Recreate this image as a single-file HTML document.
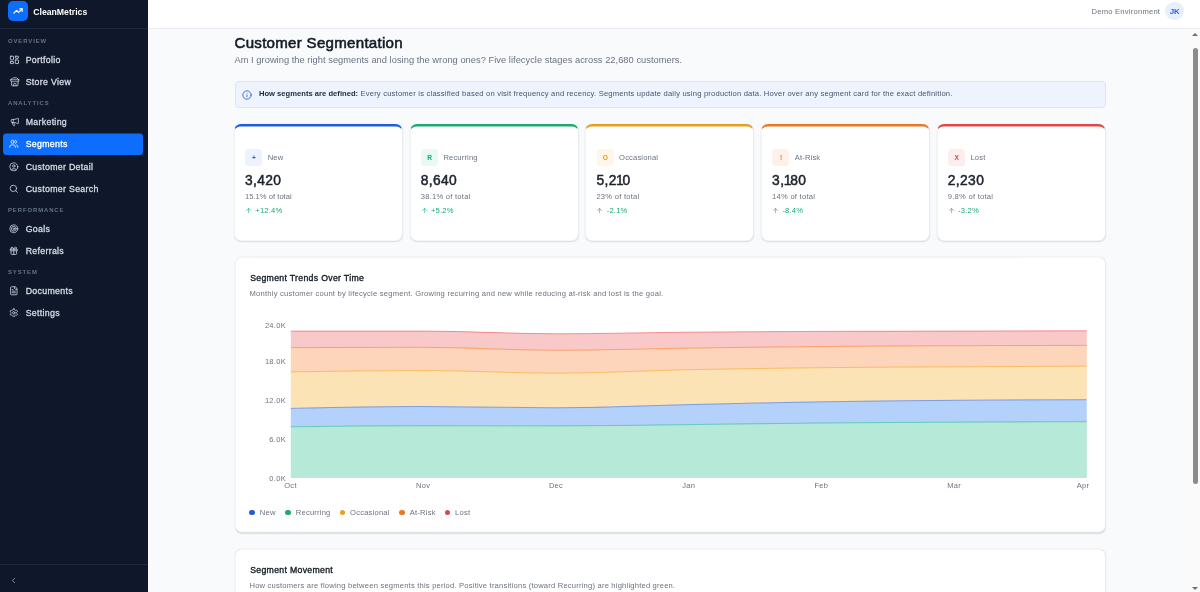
<!DOCTYPE html>
<html lang="en">
<head>
<meta charset="utf-8">
<title>CleanMetrics - Customer Segmentation</title>
<style>
*{box-sizing:border-box;margin:0;padding:0}
html,body{width:1200px;height:592px;overflow:hidden}
body{font-family:"Liberation Sans",sans-serif;background:#f8fafc;color:#0f172a;position:relative;-webkit-font-smoothing:antialiased}
.abs{position:absolute}
/* sidebar */
#side{position:absolute;left:0;top:0;width:148.300px;height:592px;background:#0f172a}
#side .hdr{position:absolute;left:0;top:0;width:148px;height:29px;border-bottom:1px solid #1e293b}
#logo{position:absolute;left:8px;top:1.400px;width:20px;height:20.100px;border-radius:5px;background:#0d6efd}
#brand{position:absolute;left:33.200px;top:5.600px;font-size:8.7px;font-weight:700;color:#fff;line-height:12px;white-space:nowrap}
.sec{position:absolute;left:8px;font-size:5.9px;font-weight:700;letter-spacing:.93px;color:#64748b;line-height:8px;white-space:nowrap}
.nav{position:absolute;left:3px;width:140px;height:22px;border-radius:3.5px;color:#d5dbe5;font-size:8.800px;font-weight:400;-webkit-text-stroke:.3px #d5dbe5;line-height:22px;white-space:nowrap}
.nav span{position:absolute;left:22.700px;top:-.200px;letter-spacing:.3px}
.nav svg{position:absolute;left:6.400px;top:5.900px;width:9.6px;height:9.6px;stroke:#cbd5e1;fill:none;stroke-width:2;stroke-linecap:round;stroke-linejoin:round}
.nav.on{background:#0d6efd;color:#fff;-webkit-text-stroke-color:#fff;box-shadow:inset 0 .5px 0 #0f172a}
.nav.on svg{stroke:#fff}
#side .ftr{position:absolute;left:0;top:564px;width:148px;height:28px;border-top:1px solid #1e293b}
/* topbar */
#top{position:absolute;left:148px;top:0;width:1052px;height:28.500px;background:#fff;border-bottom:1px solid #e9ecf0}
#env{position:absolute;right:39.800px;top:5.600px;font-size:7.600px;letter-spacing:.23px;color:#6b7280;line-height:12px;white-space:nowrap}
#ava{position:absolute;left:1017.400px;top:1.700px;width:18.600px;height:18.600px;border-radius:50%;background:#e7eefd;color:#2563eb;font-size:7.800px;font-weight:700;text-align:center;line-height:19.800px}
/* scrollbar */
#sb{position:absolute;left:1188px;top:29px;width:12px;height:563px;background:#fafafa}
#sb .th{position:absolute;left:4.700px;top:19px;width:5.300px;height:435.600px;border-radius:3px;background:#8b8b8b}
#sb .up{position:absolute;left:4.300px;top:3.500px;width:0;height:0;border-left:3px solid transparent;border-right:3px solid transparent;border-bottom:3.600px solid #6e6e6e}
#sb .dn{position:absolute;left:4.300px;top:557.700px;width:0;height:0;border-left:3px solid transparent;border-right:3px solid transparent;border-top:3.600px solid #6e6e6e}
/* main */
h1{position:absolute;left:234.500px;top:32.600px;font-size:15.100px;font-weight:400;-webkit-text-stroke:.55px #141a26;color:#141a26;line-height:20px;white-space:nowrap;letter-spacing:.27px}
#sub{position:absolute;left:234.500px;top:54px;letter-spacing:.031px;font-size:9.300px;color:#6b7280;line-height:12px;white-space:nowrap}
#info{position:absolute;left:234.500px;top:81px;width:871.200px;height:26.5px;border:1px solid #dbe4fb;background:#eef3fe;border-radius:4px;font-size:7.600px;letter-spacing:.2px;color:#475569;line-height:24.500px;white-space:nowrap}
#info .t{position:absolute;left:23.400px;top:0}
#info b{color:#1e293b;letter-spacing:.02px}
#info svg{position:absolute;left:6.900px;top:7.800px;width:10px;height:10px;fill:none;stroke:#2c60d4;stroke-width:2.100;stroke-linecap:round;stroke-linejoin:round}
.card{position:absolute;top:124px;width:167.800px;height:116.800px}
.card>div{margin:-.1px 0 0 .6px}
.card>.fr{margin:0;position:absolute;left:-.7px;top:0;width:280.830px;height:194.670px;transform:scale(.6);transform-origin:0 0;background:#fff;border:1px solid #eceef2;border-top:4px solid #000;border-radius:12px;box-shadow:0 1px 3px rgba(15,23,42,.085),0 1px 2px rgba(15,23,42,.05)}
.card .ic{position:absolute;left:10.300px;top:25px;width:17px;height:17px;border-radius:3.600px;font-size:6.6px;font-weight:700;text-align:center;line-height:17px}
.card .nm{position:absolute;left:32.600px;top:28.200px;letter-spacing:.15px;font-size:7.600px;color:#6b7280;line-height:12px;white-space:nowrap}
.card .v{position:absolute;left:9.900px;top:48px;font-size:13.800px;font-weight:400;-webkit-text-stroke:.5px #1d222c;color:#1d222c;line-height:18px;white-space:nowrap;letter-spacing:.38px}
.card .v .n1{margin:0 -1.500px 0 -.7px}
.card .p{position:absolute;left:9.900px;top:67.100px;letter-spacing:.25px;font-size:7.600px;color:#6b7280;line-height:12px;white-space:nowrap}
.card .d{position:absolute;left:20.200px;top:81.100px;letter-spacing:.2px;font-size:7.600px;color:#1aa874;line-height:12px;white-space:nowrap}
.card .d svg{position:absolute;left:-10.300px;top:1.900px;width:7.200px;height:7.200px;fill:none;stroke:#1aa874;stroke-width:2;stroke-linecap:round;stroke-linejoin:round}
.panel{position:absolute;left:235px;width:869.800px}
.panel>.fr{position:absolute;left:-.25px;top:0;width:1450.750px;transform:scale(.6);transform-origin:0 0;background:#fff;border:1px solid #eceef2;border-radius:12px;box-shadow:0 1px 3px rgba(15,23,42,.085),0 1px 2px rgba(15,23,42,.05)}
.panel h2{position:absolute;left:15.200px;top:15px;letter-spacing:.32px;font-size:8.700px;font-weight:400;-webkit-text-stroke:.35px #141a26;color:#141a26;line-height:12px;white-space:nowrap}
.panel .ds{position:absolute;left:14.500px;top:31px;letter-spacing:.23px;font-size:7.600px;color:#6b7280;line-height:12px;white-space:nowrap}
#chart{position:absolute;left:-235px;top:-257px;width:1200px;height:592px}
#chart text{font-family:"Liberation Sans",sans-serif;font-size:7.500px;fill:#6b7280;letter-spacing:.3px}
.lg{position:absolute;top:249.500px;letter-spacing:.2px;font-size:7.600px;color:#6b7280;line-height:12px;white-space:nowrap}
.lg i{position:absolute;left:-10.5px;top:3.2px;width:5.8px;height:5.8px;border-radius:50%}
</style>
</head>
<body>
<div id="top">
  <div id="env">Demo Environment</div>
  <div id="ava">JK</div>
</div>
<div id="sb"><div class="up"></div><div class="th"></div><div class="dn"></div></div>

<h1>Customer Segmentation</h1>
<div id="sub">Am I growing the right segments and losing the wrong ones? Five lifecycle stages across 22,680 customers.</div>
<div id="info">
  <svg viewBox="0 0 24 24"><circle cx="12" cy="12" r="10"/><path d="M12 16v-4M12 8h.01"/></svg>
  <div class="t"><b>How segments are defined:</b> Every customer is classified based on visit frequency and recency. Segments update daily using production data. Hover over any segment card for the exact definition.</div>
</div>

<div class="card" style="left:234.5px"><div class="fr" style="border-top-color:#1f5fd6"></div><div class="ic" style="background:#edf2fe;color:#2563eb">+</div><div class="nm">New</div><div class="v">3,420</div><div class="p" style="letter-spacing:.02px">15.1% of total</div><div class="d"><svg viewBox="0 0 24 24"><path d="M12 19V5"/><path d="M5 12l7-7 7 7"/></svg>+12.4%</div></div>
<div class="card" style="left:410.2px"><div class="fr" style="border-top-color:#1fa772"></div><div class="ic" style="background:#ebf9f4;color:#12a874">R</div><div class="nm">Recurring</div><div class="v">8,640</div><div class="p">38.1% of total</div><div class="d"><svg viewBox="0 0 24 24"><path d="M12 19V5"/><path d="M5 12l7-7 7 7"/></svg>+5.2%</div></div>
<div class="card" style="left:585.9px"><div class="fr" style="border-top-color:#e6a023"></div><div class="ic" style="background:#fef7e8;color:#e99a10">O</div><div class="nm">Occasional</div><div class="v">5,2<span class="n1">1</span>0</div><div class="p">23% of total</div><div class="d"><svg viewBox="0 0 24 24"><path d="M12 19V5"/><path d="M5 12l7-7 7 7"/></svg>-2.1%</div></div>
<div class="card" style="left:761.6px"><div class="fr" style="border-top-color:#e87924"></div><div class="ic" style="background:#fef1ea;color:#ee7420">!</div><div class="nm">At-Risk</div><div class="v">3,<span class="n1">1</span>80</div><div class="p">14% of total</div><div class="d"><svg viewBox="0 0 24 24"><path d="M12 19V5"/><path d="M5 12l7-7 7 7"/></svg>-8.4%</div></div>
<div class="card" style="left:937.3px"><div class="fr" style="border-top-color:#dc4848"></div><div class="ic" style="background:#fdeeee;color:#e04545">X</div><div class="nm">Lost</div><div class="v">2,230</div><div class="p">9.8% of total</div><div class="d"><svg viewBox="0 0 24 24"><path d="M12 19V5"/><path d="M5 12l7-7 7 7"/></svg>-3.2%</div></div>

<div class="panel" id="p1" style="top:257px;height:275.200px"><div class="fr" style="height:458.800px"></div>
  <h2>Segment Trends Over Time</h2>
  <div class="ds">Monthly customer count by lifecycle segment. Growing recurring and new while reducing at-risk and lost is the goal.</div>
  <svg id="chart" viewBox="0 0 1200 592">
    <path d="M290.8,426.8C335.0,426.2,379.3,425.7,423.5,425.7C467.7,425.7,511.9,425.9,556.1,425.9C600.3,425.9,644.6,425.1,688.8,424.6C733.0,424.1,777.3,423.4,821.5,423.0C865.7,422.6,909.9,422.4,954.1,422.2C998.3,422.0,1042.6,421.8,1086.8,421.6L1086.8,478.0C1042.6,478.0,998.3,478.0,954.1,478.0C909.9,478.0,865.7,478.0,821.5,478.0C777.3,478.0,733.0,478.0,688.8,478.0C644.6,478.0,600.3,478.0,556.1,478.0C511.9,478.0,467.7,478.0,423.5,478.0C379.3,478.0,335.0,478.0,290.8,478.0Z" fill="#b6e9d7"/>
<path d="M290.8,408.4C335.0,407.4,379.3,406.5,423.5,406.5C467.7,406.5,511.9,407.8,556.1,407.8C600.3,407.8,644.6,405.6,688.8,404.6C733.0,403.6,777.3,402.5,821.5,401.8C865.7,401.1,909.9,400.6,954.1,400.3C998.3,399.9,1042.6,399.8,1086.8,399.7L1086.8,421.6C1042.6,421.8,998.3,422.0,954.1,422.2C909.9,422.4,865.7,422.6,821.5,423.0C777.3,423.4,733.0,424.1,688.8,424.6C644.6,425.1,600.3,425.9,556.1,425.9C511.9,425.9,467.7,425.7,423.5,425.7C379.3,425.7,335.0,426.2,290.8,426.8Z" fill="#b4d1fc"/>
<path d="M290.8,371.9C335.0,371.2,379.3,370.5,423.5,370.5C467.7,370.5,511.9,373.2,556.1,373.2C600.3,373.2,644.6,370.6,688.8,369.7C733.0,368.8,777.3,368.2,821.5,367.7C865.7,367.2,909.9,367.0,954.1,366.8C998.3,366.5,1042.6,366.4,1086.8,366.2L1086.8,399.7C1042.6,399.8,998.3,399.9,954.1,400.3C909.9,400.6,865.7,401.1,821.5,401.8C777.3,402.5,733.0,403.6,688.8,404.6C644.6,405.6,600.3,407.8,556.1,407.8C511.9,407.8,467.7,406.5,423.5,406.5C379.3,406.5,335.0,407.4,290.8,408.4Z" fill="#fce3b5"/>
<path d="M290.8,347.6C335.0,347.5,379.3,347.3,423.5,347.3C467.7,347.3,511.9,350.3,556.1,350.3C600.3,350.3,644.6,348.7,688.8,348.1C733.0,347.5,777.3,346.9,821.5,346.5C865.7,346.1,909.9,345.9,954.1,345.7C998.3,345.5,1042.6,345.5,1086.8,345.4L1086.8,366.2C1042.6,366.4,998.3,366.5,954.1,366.8C909.9,367.0,865.7,367.2,821.5,367.7C777.3,368.2,733.0,368.8,688.8,369.7C644.6,370.6,600.3,373.2,556.1,373.2C511.9,373.2,467.7,370.5,423.5,370.5C379.3,370.5,335.0,371.2,290.8,371.9Z" fill="#fdd5ba"/>
<path d="M290.8,331.1C335.0,331.1,379.3,331.1,423.5,331.1C467.7,331.1,511.9,333.8,556.1,333.8C600.3,333.8,644.6,332.6,688.8,332.2C733.0,331.8,777.3,331.6,821.5,331.4C865.7,331.2,909.9,331.2,954.1,331.1C998.3,331.0,1042.6,330.9,1086.8,330.8L1086.8,345.4C1042.6,345.5,998.3,345.5,954.1,345.7C909.9,345.9,865.7,346.1,821.5,346.5C777.3,346.9,733.0,347.5,688.8,348.1C644.6,348.7,600.3,350.3,556.1,350.3C511.9,350.3,467.7,347.3,423.5,347.3C379.3,347.3,335.0,347.5,290.8,347.6Z" fill="#f9c9c9"/>
<path d="M290.8,426.8C335.0,426.2,379.3,425.7,423.5,425.7C467.7,425.7,511.9,425.9,556.1,425.9C600.3,425.9,644.6,425.1,688.8,424.6C733.0,424.1,777.3,423.4,821.5,423.0C865.7,422.6,909.9,422.4,954.1,422.2C998.3,422.0,1042.6,421.8,1086.8,421.6" fill="none" stroke="#10b981" stroke-width="1" stroke-opacity=".55"/>
<path d="M290.8,408.4C335.0,407.4,379.3,406.5,423.5,406.5C467.7,406.5,511.9,407.8,556.1,407.8C600.3,407.8,644.6,405.6,688.8,404.6C733.0,403.6,777.3,402.5,821.5,401.8C865.7,401.1,909.9,400.6,954.1,400.3C998.3,399.9,1042.6,399.8,1086.8,399.7" fill="none" stroke="#2563eb" stroke-width="1" stroke-opacity=".55"/>
<path d="M290.8,371.9C335.0,371.2,379.3,370.5,423.5,370.5C467.7,370.5,511.9,373.2,556.1,373.2C600.3,373.2,644.6,370.6,688.8,369.7C733.0,368.8,777.3,368.2,821.5,367.7C865.7,367.2,909.9,367.0,954.1,366.8C998.3,366.5,1042.6,366.4,1086.8,366.2" fill="none" stroke="#f59e0b" stroke-width="1" stroke-opacity=".55"/>
<path d="M290.8,347.6C335.0,347.5,379.3,347.3,423.5,347.3C467.7,347.3,511.9,350.3,556.1,350.3C600.3,350.3,644.6,348.7,688.8,348.1C733.0,347.5,777.3,346.9,821.5,346.5C865.7,346.1,909.9,345.9,954.1,345.7C998.3,345.5,1042.6,345.5,1086.8,345.4" fill="none" stroke="#f97316" stroke-width="1" stroke-opacity=".55"/>
<path d="M290.8,331.1C335.0,331.1,379.3,331.1,423.5,331.1C467.7,331.1,511.9,333.8,556.1,333.8C600.3,333.8,644.6,332.6,688.8,332.2C733.0,331.8,777.3,331.6,821.5,331.4C865.7,331.2,909.9,331.2,954.1,331.1C998.3,331.0,1042.6,330.9,1086.8,330.8" fill="none" stroke="#ef4444" stroke-width="1" stroke-opacity=".55"/>
    <g text-anchor="end">
      <text x="286" y="328">24.0K</text>
      <text x="286" y="364">18.0K</text>
      <text x="286" y="403">12.0K</text>
      <text x="286" y="442">6.0K</text>
      <text x="286" y="481">0.0K</text>
    </g>
    <g text-anchor="middle">
      <text x="290.5" y="488.200">Oct</text>
      <text x="423.2" y="488.200">Nov</text>
      <text x="556" y="488.200">Dec</text>
      <text x="688.7" y="488.200">Jan</text>
      <text x="821.4" y="488.200">Feb</text>
      <text x="954.1" y="488.200">Mar</text>
      <text x="1083" y="488.200">Apr</text>
    </g>
  </svg>
  <div class="lg" style="left:24.8px"><i style="background:#1f5fd6"></i>New</div>
  <div class="lg" style="left:60.8px"><i style="background:#1fa772"></i>Recurring</div>
  <div class="lg" style="left:115.1px"><i style="background:#e6a023"></i>Occasional</div>
  <div class="lg" style="left:174.8px"><i style="background:#e87924"></i>At-Risk</div>
  <div class="lg" style="left:220.1px"><i style="background:#dc4848"></i>Lost</div>
</div>

<div class="panel" id="p2" style="top:549px;height:80px"><div class="fr" style="height:135.330px"></div>
  <h2>Segment Movement</h2>
  <div class="ds" style="letter-spacing:.2px">How customers are flowing between segments this period. Positive transitions (toward Recurring) are highlighted green.</div>
</div>

<div id="side">
  <div class="hdr">
    <div id="logo"><svg viewBox="0 0 24 24" style="position:absolute;left:5px;top:5px;width:10px;height:10px;fill:none;stroke:#fff;stroke-width:2.800;stroke-linecap:round;stroke-linejoin:round"><path d="M22 7l-8.5 8.5-5-5L2 17"/><path d="M16 7h6v6"/></svg></div>
    <div id="brand">CleanMetrics</div>
  </div>
  <div class="sec" style="top:37px">OVERVIEW</div>
  <div class="nav" style="top:48.500px"><svg viewBox="0 0 24 24" preserveAspectRatio="none" style="left:5.900px;top:6.700px;width:10.800px;height:9.800px"><rect x="3" y="3" width="7" height="9" rx="1"/><rect x="14" y="3" width="7" height="5" rx="1"/><rect x="14" y="12" width="7" height="9" rx="1"/><rect x="3" y="16" width="7" height="5" rx="1"/></svg><span style="top:.6px">Portfolio</span></div>
  <div class="nav" style="top:71px"><svg viewBox="0 0 24 24" style="left:7.300px;top:6.300px"><path d="m2 7 4.410-4.410A2 2 0 0 1 7.830 2h8.340a2 2 0 0 1 1.420.590L22 7"/><path d="M4 12v8a2 2 0 0 0 2 2h12a2 2 0 0 0 2-2v-8"/><path d="M15 22v-4a2 2 0 0 0-2-2h-2a2 2 0 0 0-2 2v4"/><path d="M2 7h20"/><path d="M22 7v3a2 2 0 0 1-2 2a2.700 2.700 0 0 1-1.590-.630.700.700 0 0 0-.820 0A2.700 2.700 0 0 1 16 12a2.700 2.700 0 0 1-1.590-.630.700.700 0 0 0-.820 0A2.700 2.700 0 0 1 12 12a2.700 2.700 0 0 1-1.590-.630.700.700 0 0 0-.820 0A2.700 2.700 0 0 1 8 12a2.700 2.700 0 0 1-1.590-.630.700.700 0 0 0-.820 0A2.700 2.700 0 0 1 4 12a2 2 0 0 1-2-2V7"/></svg><span>Store View</span></div>
  <div class="sec" style="top:99px">ANALYTICS</div>
  <div class="nav" style="top:111.200px"><svg viewBox="0 0 24 24" style="left:6.900px"><path d="M11 6a13 13 0 0 0 8.400-2.800A1 1 0 0 1 21 4v12a1 1 0 0 1-1.600.800A13 13 0 0 0 11 14H5a2 2 0 0 1-2-2V8a2 2 0 0 1 2-2z"/><path d="M6 14a12 12 0 0 0 2.400 7.200 2 2 0 0 0 3.200-2.400A8 8 0 0 1 10 14"/><path d="M8 6v8"/></svg><span>Marketing</span></div>
  <div class="nav on" style="top:133px"><svg viewBox="0 0 24 24"><path d="M16 21v-2a4 4 0 0 0-4-4H6a4 4 0 0 0-4 4v2"/><circle cx="9" cy="7" r="4"/><path d="M22 21v-2a4 4 0 0 0-3-3.870"/><path d="M16 3.130a4 4 0 0 1 0 7.750"/></svg><span>Segments</span></div>
  <div class="nav" style="top:156.200px"><svg viewBox="0 0 24 24"><circle cx="12" cy="12" r="10"/><circle cx="12" cy="10" r="3"/><path d="M7 20.662V19a2 2 0 0 1 2-2h6a2 2 0 0 1 2 2v1.662"/></svg><span>Customer Detail</span></div>
  <div class="nav" style="top:178px"><svg viewBox="0 0 24 24"><circle cx="11" cy="11" r="8"/><path d="M21 21l-4.300-4.300"/></svg><span>Customer Search</span></div>
  <div class="sec" style="top:206px">PERFORMANCE</div>
  <div class="nav" style="top:218.200px"><svg viewBox="0 0 24 24"><circle cx="12" cy="12" r="10"/><circle cx="12" cy="12" r="6"/><circle cx="12" cy="12" r="2"/></svg><span>Goals</span></div>
  <div class="nav" style="top:240px"><svg viewBox="0 0 24 24"><rect x="3" y="8" width="18" height="4" rx="1"/><path d="M12 8v13"/><path d="M19 12v7a2 2 0 0 1-2 2H7a2 2 0 0 1-2-2v-7"/><path d="M7.500 8a2.500 2.500 0 0 1 0-5A4.800 8 0 0 1 12 8a4.800 8 0 0 1 4.500-5 2.500 2.500 0 0 1 0 5"/></svg><span>Referrals</span></div>
  <div class="sec" style="top:268px">SYSTEM</div>
  <div class="nav" style="top:280.200px"><svg viewBox="0 0 24 24"><path d="M15 2H6a2 2 0 0 0-2 2v16a2 2 0 0 0 2 2h12a2 2 0 0 0 2-2V7z"/><path d="M14 2v4a2 2 0 0 0 2 2h4"/><path d="M10 9H8"/><path d="M16 13H8"/><path d="M16 17H8"/></svg><span>Documents</span></div>
  <div class="nav" style="top:302px"><svg viewBox="0 0 24 24"><path d="M12.220 2h-.44a2 2 0 0 0-2 2v.180a2 2 0 0 1-1 1.730l-.43.250a2 2 0 0 1-2 0l-.15-.080a2 2 0 0 0-2.730.730l-.22.380a2 2 0 0 0 .730 2.730l.15.100a2 2 0 0 1 1 1.720v.510a2 2 0 0 1-1 1.740l-.15.090a2 2 0 0 0-.73 2.730l.22.380a2 2 0 0 0 2.730.730l.15-.080a2 2 0 0 1 2 0l.43.250a2 2 0 0 1 1 1.730V20a2 2 0 0 0 2 2h.44a2 2 0 0 0 2-2v-.180a2 2 0 0 1 1-1.730l.43-.250a2 2 0 0 1 2 0l.15.080a2 2 0 0 0 2.730-.730l.22-.390a2 2 0 0 0-.73-2.730l-.15-.080a2 2 0 0 1-1-1.740v-.500a2 2 0 0 1 1-1.740l.15-.090a2 2 0 0 0 .73-2.730l-.22-.380a2 2 0 0 0-2.730-.730l-.15.080a2 2 0 0 1-2 0l-.43-.250a2 2 0 0 1-1-1.730V4a2 2 0 0 0-2-2z"/><circle cx="12" cy="12" r="3"/></svg><span>Settings</span></div>
  <div class="ftr"><svg viewBox="0 0 24 24" style="position:absolute;left:8.500px;top:10.500px;width:9px;height:9px;fill:none;stroke:#94a3b8;stroke-width:2.200;stroke-linecap:round;stroke-linejoin:round"><path d="M15 18l-6-6 6-6"/></svg></div>
</div>
</body>
</html>
